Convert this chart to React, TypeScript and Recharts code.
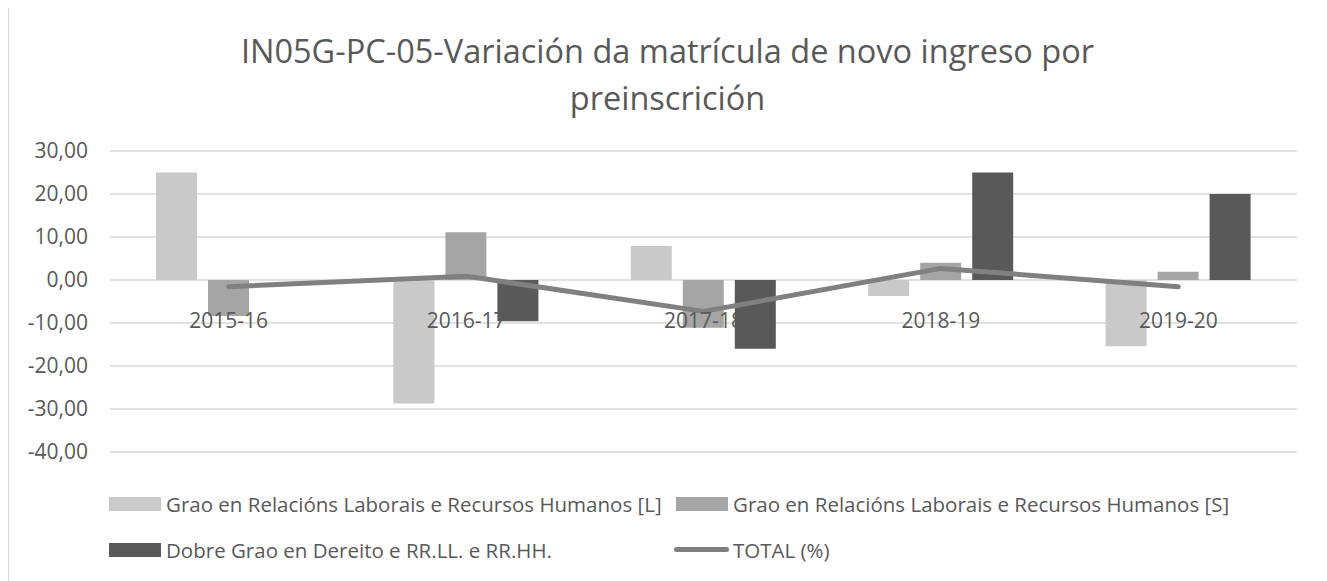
import React from "react";
import { ComposedChart, Bar, Line, XAxis, YAxis, CartesianGrid } from "recharts";

const categories = ["2015-16", "2016-17", "2017-18", "2018-19", "2019-20"];
const seriesL = [25.0, -28.7, 7.9, -3.7, -15.4];
const seriesS = [-8.4, 11.1, -11.1, 4.0, 1.9];
const seriesDobre: (number | null)[] = [null, -9.6, -16.0, 25.0, 20.0];
const seriesTotal = [-1.55, 0.9, -7.3, 2.7, -1.55];
const yTicks = [-40, -30, -20, -10, 0, 10, 20, 30];

const names = {
  L: "Grao en Relacións Laborais e Recursos Humanos [L]",
  S: "Grao en Relacións Laborais e Recursos Humanos [S]",
  D: "Dobre Grao en Dereito e RR.LL. e RR.HH.",
  T: "TOTAL (%)",
};
const title1 = "IN05G-PC-05-Variación da matrícula de novo ingreso por";
const title2 = "preinscrición";

const colors = { L: "#c9c9c9", S: "#a5a5a5", D: "#595959", T: "#808080" };

const data = categories.map((c, i) => ({
  cat: c,
  L: seriesL[i],
  S: seriesS[i],
  D: seriesDobre[i],
  T: seriesTotal[i],
}));

const W = 1317;
const H = 574;
const TOP = 143;
const PLOT_H = 301;
const XAXIS_H = 30;
const BOTTOM = H - TOP - PLOT_H;
const Y_MIN = -40;
const Y_MAX = 30;
const FONT = "'Open Sans', sans-serif";
const TEXT = "#595959";
const MARGIN = { top: TOP, right: 29, left: 0, bottom: BOTTOM - XAXIS_H - 2 };

const CatTick = (props: any) => {
  const { x, y, payload } = props;
  const zeroUp = (PLOT_H * (0 - Y_MIN)) / (Y_MAX - Y_MIN);
  return (
    <text
      x={x}
      y={y - zeroUp + 39.5}
      textAnchor="middle"
      fill={TEXT}
      fontSize={21}
      fontFamily={FONT}
    >
      {payload.value}
    </text>
  );
};

const fmt = (v: number) => v.toFixed(2).replace(".", ",");

const LegendItem = ({ kind, color, label, left, top }: any) => (
  <div
    style={{
      position: "absolute",
      left,
      top: top - 14,
      height: 28,
      display: "flex",
      alignItems: "center",
      whiteSpace: "nowrap",
    }}
  >
    {kind === "bar" ? (
      <div style={{ width: 52, height: 14, background: color }} />
    ) : (
      <div style={{ width: 55, height: 5, borderRadius: 3, background: color }} />
    )}
    <span
      style={{
        marginLeft: kind === "bar" ? 5 : 4,
        fontSize: 20.5,
        lineHeight: "28px",
        fontFamily: FONT,
        color: TEXT,
      }}
    >
      {label}
    </span>
  </div>
);

const renderSeries = (visible: boolean) => [
  <Bar key="L" dataKey="L" name={names.L} fill={colors.L} fillOpacity={visible ? 1 : 0} isAnimationActive={false} />,
  <Bar key="S" dataKey="S" name={names.S} fill={colors.S} fillOpacity={visible ? 1 : 0} isAnimationActive={false} />,
  <Bar key="D" dataKey="D" name={names.D} fill={colors.D} fillOpacity={visible ? 1 : 0} isAnimationActive={false} />,
  <Line
    key="T"
    dataKey="T"
    name={names.T}
    stroke={colors.T}
    strokeOpacity={visible ? 1 : 0}
    strokeWidth={5}
    strokeLinecap="round"
    strokeLinejoin="round"
    dot={false}
    activeDot={false}
    isAnimationActive={false}
  />,
];

export default function App() {
  return (
    <div
      style={{
        position: "relative",
        width: W + 2,
        height: H + 2,
        border: "1px solid #d9d9d9",
        boxSizing: "border-box",
        marginTop: -1,
        background: "#fff",
      }}
    >
      <div
        style={{
          position: "absolute",
          left: 0,
          top: 18.5,
          width: W,
          textAlign: "center",
          fontFamily: FONT,
          fontSize: 32.5,
          lineHeight: "47px",
          color: TEXT,
        }}
      >
        <div>{title1}</div>
        <div>{title2}</div>
      </div>
      {/* bottom layer: gridlines, value axis, bars and line */}
      <div style={{ position: "absolute", left: 0, top: 0 }}>
        <ComposedChart width={W} height={H - 2} data={data} margin={MARGIN} barSize={41} barGap={11}>
          <CartesianGrid vertical={false} stroke="#d9d9d9" strokeWidth={1.3} />
          <YAxis
            width={101}
            domain={[Y_MIN, Y_MAX]}
            ticks={yTicks}
            tickFormatter={fmt}
            axisLine={false}
            tickLine={false}
            tickSize={0}
            tickMargin={22}
            interval={0}
            tick={{ fill: TEXT, fontSize: 21, fontFamily: FONT }}
          />
          <XAxis dataKey="cat" height={XAXIS_H} axisLine={false} tickLine={false} tick={false} />
          {renderSeries(true)}
        </ComposedChart>
      </div>
      {/* top layer: category labels drawn over the bars, next to the zero line */}
      <div style={{ position: "absolute", left: 0, top: 0 }}>
        <ComposedChart width={W} height={H - 2} data={data} margin={MARGIN} barSize={41} barGap={11}>
          <YAxis width={101} domain={[Y_MIN, Y_MAX]} ticks={yTicks} axisLine={false} tickLine={false} tick={false} />
          <XAxis
            dataKey="cat"
            height={XAXIS_H}
            axisLine={false}
            tickLine={false}
            interval={0}
            tick={<CatTick />}
          />
          {renderSeries(false)}
        </ComposedChart>
      </div>
      <LegendItem kind="bar" color={colors.L} label={names.L} left={100} top={496} />
      <LegendItem kind="bar" color={colors.S} label={names.S} left={667} top={496} />
      <LegendItem kind="bar" color={colors.D} label={names.D} left={100} top={541.5} />
      <LegendItem kind="line" color={colors.T} label={names.T} left={665} top={541.5} />
    </div>
  );
}
